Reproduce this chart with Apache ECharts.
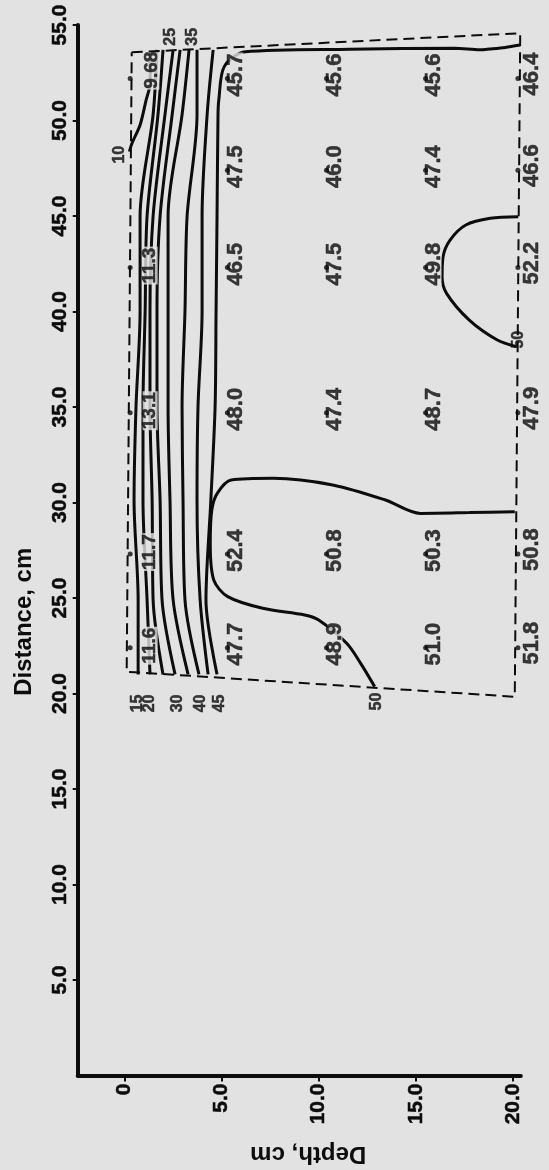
<!DOCTYPE html>
<html><head><meta charset="utf-8">
<script src="https://cdn.jsdelivr.net/npm/echarts@6/dist/echarts.min.js"></script>
<style>html,body{margin:0;padding:0;background:#e2e2e2;}#c{width:549px;height:1170px;}</style>
</head><body><div id="c"></div>
<script>
// ---------- data ----------
// measurement grid
const distanceRows = [52.2, 47.4, 42.3, 34.7, 27.3, 22.4];      // Distance, cm
const depthColumns = [0.3, 5.3, 10.4, 15.5, 20.25];             // Depth, cm
const valuesAtDepth0  = [9.68, null, 11.3, 13.1, 11.7, 11.6];
const valuesAtDepth5  = [45.7, 47.5, 46.5, 48.0, 52.4, 47.7];
const valuesAtDepth10 = [45.6, 46.0, 47.5, 47.4, 50.8, 48.9];
const valuesAtDepth15 = [45.6, 47.4, 49.8, 48.7, 50.3, 51.0];
const valuesAtDepth20 = [46.4, 46.6, 52.2, 47.9, 50.8, 51.8];

// tick labels
const distanceTicks = [5, 10, 15, 20, 25, 30, 35, 40, 45, 50, 55];
const depthTicks = [0, 5, 10, 15, 20];

// dashed boundary of the measured region
const boundaryDepth    = [0.38, 20.37, 20.09, 0.12, 0.38];
const boundaryDistance = [53.57, 54.57, 19.83, 21.14, 53.57];

// contour lines (depth read at each distance)
const contourDistance = [21.0, 24.9, 30.1, 35.0, 40.0, 45.0, 50.3, 53.7];
const contour15 = [0.71, 0.71, 0.50, 0.60, 0.81, 0.81, 1.48, 1.68];
const contour20 = [1.32, 1.17, 0.96, 0.96, 1.07, 1.17, 1.73, 1.99];
const contour25 = [1.99, 1.48, 1.43, 1.32, 1.32, 1.48, 2.09, 2.51];
const contour30 = [2.61, 1.94, 1.84, 1.68, 1.68, 1.84, 2.46, 2.87];
const contour35 = [3.28, 2.51, 2.35, 2.25, 2.25, 2.25, 2.97, 3.33];
const contour40 = [3.84, 3.12, 3.02, 2.97, 3.12, 3.23, 3.74, 3.74];
const contourUnlabeled = [4.31, 3.90, 3.74, 3.79, 4.00, 4.00, 4.26, 4.57];

const contour45Distance = [21.0, 24.9, 30.1, 35.0, 40.0, 45.0, 50.3, 51.07, 52.82, 53.6, 53.73, 53.78, 53.7, 53.74, 53.82, 53.95];
const contour45Depth    = [4.77, 4.20, 4.45, 4.67, 4.72, 4.77, 4.82, 4.86, 5.14, 6.22, 11.6, 17.0, 18.3, 18.8, 19.6, 20.35];

const contour10Distance = [53.57, 51.96, 51.07, 49.76, 48.82, 48.37];
const contour10Depth    = [1.33, 1.33, 1.12, 0.81, 0.40, 0.26];

const contour50aDepth    = [20.09, 17.75, 15.23, 13.43, 10.72, 7.66, 5.50, 4.78, 4.50, 4.42, 4.60, 5.32, 7.12, 9.28, 10.0, 11.44, 12.16, 12.88];
const contour50aDistance = [29.52, 29.47, 29.43, 30.13, 30.92, 31.27, 31.18, 30.48, 29.61, 27.86, 25.94, 25.07, 24.46, 24.11, 23.85, 22.63, 21.58, 20.36];

const contour50bDepth    = [20.27, 18.83, 17.57, 16.76, 16.40, 16.35, 16.58, 17.75, 19.19, 20.18];
const contour50bDistance = [44.96, 44.88, 44.53, 43.74, 42.87, 41.82, 40.95, 39.55, 38.51, 38.16];

// ---------- styling ----------
const INK = '#0c0c0c';
const PAPER = '#e2e2e2';
const FONT = '"Liberation Sans", Arial, sans-serif';

const zip = (xs, ys) => xs.map((x, i) => [x, ys[i]]);
const fmtVal = v => (Math.round(v * 10) === v * 10 ? v.toFixed(1) : String(v));

// label offsets per column, in the rotated text frame (styling only)
const columnLabelOffset = [[2, 20], [3.5, 8.5], [3.5, 8.5], [3.5, 8.5], [4.5, 14]];

// measured values + dots
const valueColumns = [valuesAtDepth0, valuesAtDepth5, valuesAtDepth10, valuesAtDepth15, valuesAtDepth20];
const valueItems = [];
const dotItems = [];
valueColumns.forEach((col, ci) => {
  col.forEach((v, ri) => {
    if (v == null) return;
    const pt = [depthColumns[ci], distanceRows[ri], v];
    dotItems.push(pt);
    let off = columnLabelOffset[ci];
    if (ci === 0 && ri === 0) off = [8.3, 21.7];
    valueItems.push({
      value: pt,
      label: {
        offset: off,
        fontSize: ci === 0 ? 19 : 22,
        backgroundColor: ci === 4 ? 'transparent' : PAPER
      }
    });
  });
});

// contour line series
const contourSets = [
  { name: '10', d: contour10Depth, D: contour10Distance },
  { name: '15', d: contour15, D: contourDistance },
  { name: '20', d: contour20, D: contourDistance },
  { name: '25', d: contour25, D: contourDistance },
  { name: '30', d: contour30, D: contourDistance },
  { name: '35', d: contour35, D: contourDistance },
  { name: '40', d: contour40, D: contourDistance },
  { name: 'unlabeled', d: contourUnlabeled, D: contourDistance },
  { name: '45', d: contour45Depth, D: contour45Distance },
  { name: '50a', d: contour50aDepth, D: contour50aDistance },
  { name: '50b', d: contour50bDepth, D: contour50bDistance }
];
const byName = Object.fromEntries(contourSets.map(s => [s.name, s]));
const first = s => [s.d[0], s.D[0]];
const last = s => [s.d[s.d.length - 1], s.D[s.D.length - 1]];

// contour level labels, at the end of each line (offset = styling)
const contourLabelItems = [
  { text: '10', at: last(byName['10']),  off: [-3, -10] },
  { text: '15', at: first(byName['15']), off: [-29, -1] },
  { text: '20', at: first(byName['20']), off: [-29, 0] },
  { text: '30', at: first(byName['30']), off: [-29, 2.5] },
  { text: '40', at: first(byName['40']), off: [-29, 2] },
  { text: '45', at: first(byName['45']), off: [-29, 3] },
  { text: '25', at: last(byName['25']),  off: [13, -3] },
  { text: '35', at: last(byName['35']),  off: [13, 4] },
  { text: '50', at: last(byName['50a']), off: [-15, 2] },
  { text: '50', at: last(byName['50b']), off: [7, 2] }
].map(o => ({ value: o.at, label: { offset: o.off, formatter: o.text } }));

const series = [];
contourSets.forEach(s => {
  series.push({
    type: 'line', name: 'contour ' + s.name, data: zip(s.d, s.D),
    symbol: 'none', smooth: 0.3, z: 2, silent: true, clip: false,
    lineStyle: { color: INK, width: 3 }
  });
});
series.push({
  type: 'scatter', name: 'values', data: valueItems, z: 3, silent: true, clip: false,
  symbol: 'circle', symbolSize: 1, itemStyle: { color: 'rgba(0,0,0,0)' },
  label: {
    show: true, position: 'inside', rotate: 90, align: 'center', verticalAlign: 'middle',
    color: INK, fontFamily: FONT, fontWeight: 'bold', fontSize: 22, lineHeight: 15,
    textBorderColor: INK, textBorderWidth: 0.5,
    padding: [0, 1],
    formatter: p => fmtVal(p.value[2])
  }
});
series.push({
  type: 'line', name: 'boundary', data: zip(boundaryDepth, boundaryDistance),
  symbol: 'none', z: 4, silent: true, clip: false,
  lineStyle: { color: INK, width: 2, type: [11, 6] }
});
series.push({
  type: 'scatter', name: 'points', data: dotItems, z: 5, silent: true, clip: false,
  symbol: 'circle', symbolSize: 5, itemStyle: { color: INK }
});
series.push({
  type: 'scatter', name: 'contour labels', data: contourLabelItems, z: 5, silent: true, clip: false,
  symbol: 'circle', symbolSize: 1, itemStyle: { color: 'rgba(0,0,0,0)' },
  label: {
    show: true, position: 'inside', rotate: 90, align: 'center', verticalAlign: 'middle',
    color: INK, fontFamily: FONT, fontWeight: 'bold', fontSize: 16,
    textBorderColor: INK, textBorderWidth: 0.5
  }
});

const chart = echarts.init(document.getElementById('c'), null, { renderer: 'canvas' });
chart.setOption({
  animation: false,
  backgroundColor: PAPER,
  grid: { left: 77.7, right: 28.2, top: 25, bottom: 94.5, containLabel: false, outerBoundsMode: 'none' },
  xAxis: {
    type: 'value', min: -2.4, max: 20.4, position: 'bottom',
    name: 'Depth, cm', nameLocation: 'middle', nameRotate: 180, nameGap: 66,
    nameTextStyle: { color: INK, fontFamily: FONT, fontWeight: 'bold', fontSize: 24, lineHeight: 24, padding: [0, 18, 0, 0] },
    axisLine: { onZero: false, lineStyle: { color: INK, width: 4 } },
    axisTick: { show: true, customValues: depthTicks, length: 6, lineStyle: { color: INK, width: 2 } },
    axisLabel: {
      customValues: depthTicks, rotate: 90, margin: 8,
      color: INK, fontFamily: FONT, fontWeight: 'bold', fontSize: 21,
      textBorderColor: INK, textBorderWidth: 0.5,
      formatter: v => (v === 0 ? '0' : v.toFixed(1))
    },
    splitLine: { show: false }
  },
  yAxis: {
    type: 'value', min: 0, max: 55, position: 'left',
    name: 'Distance, cm', nameLocation: 'middle', nameGap: 41,
    nameTextStyle: { color: INK, fontFamily: FONT, fontWeight: 'bold', fontSize: 24, lineHeight: 24, padding: [0, 143, 0, 0] },
    axisLine: { onZero: false, lineStyle: { color: INK, width: 4 } },
    axisTick: { show: true, customValues: distanceTicks, length: 5, lineStyle: { color: INK, width: 2 } },
    axisLabel: {
      customValues: distanceTicks, rotate: 90, margin: 7,
      color: INK, fontFamily: FONT, fontWeight: 'bold', fontSize: 21,
      textBorderColor: INK, textBorderWidth: 0.5,
      formatter: v => v.toFixed(1)
    },
    splitLine: { show: false }
  },
  series: series
});
</script>
</body></html>
